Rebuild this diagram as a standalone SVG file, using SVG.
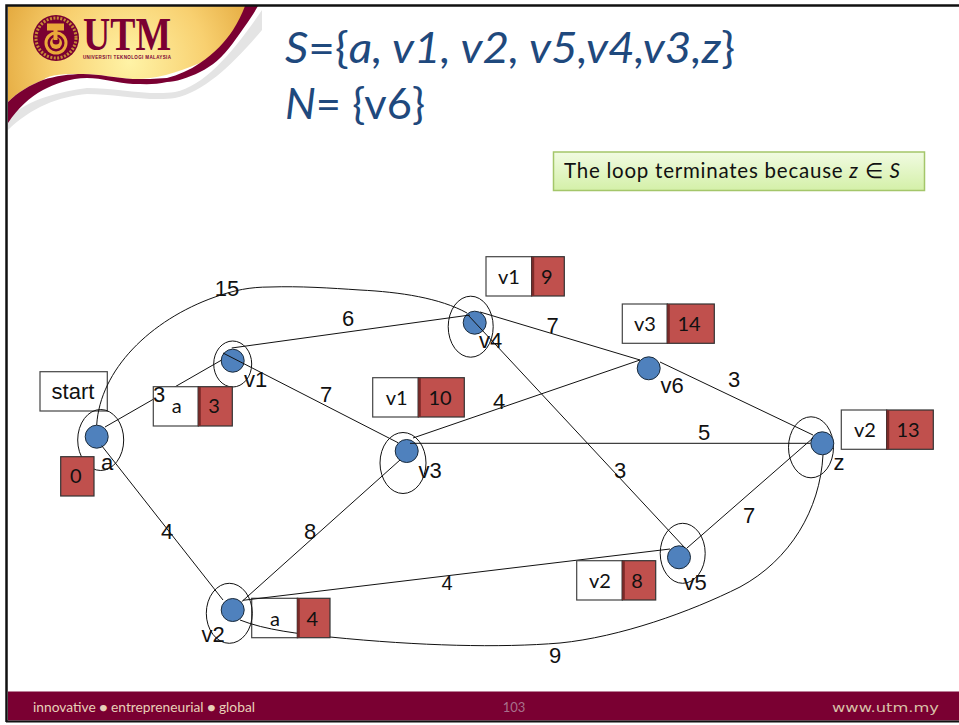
<svg xmlns="http://www.w3.org/2000/svg" width="959" height="725" viewBox="0 0 959 725">
<style>
.l{font-family:"Liberation Sans",Arial,sans-serif;font-size:22px;fill:#111;text-anchor:middle}
.b{font-family:Lato,"Open Sans",sans-serif;font-size:20px;fill:#111;text-anchor:middle}
.e{fill:none;stroke:#111;stroke-width:1}
.n{fill:#4f81bd;stroke:#1a2a3a;stroke-width:1}
.o{fill:none;stroke:#111;stroke-width:1}
.w{fill:#fff;stroke:#444;stroke-width:1.200}
.r{fill:#c0504d;stroke:#333;stroke-width:1.200}
.s{fill:#7a2a28}
.t{font-family:Lato,"Open Sans",sans-serif;font-size:42px;fill:#1f497d}
</style>
<defs>
<radialGradient id="g" gradientUnits="userSpaceOnUse" cx="130" cy="62" r="140">
<stop offset="0" stop-color="#fff3a6"/><stop offset="0.55" stop-color="#f8d070"/><stop offset="1" stop-color="#e2a63a"/>
</radialGradient>
<linearGradient id="gb" x1="0" y1="0" x2="0" y2="1"><stop offset="0" stop-color="#f1fbe2"/><stop offset="1" stop-color="#d4f0a8"/></linearGradient>
</defs>
<rect width="959" height="725" fill="#fff"/>
<g id="banner">
<path d="M8 118C30 98 60 92 87 88C115 88 150 96 175 92C205 86 235 50 262 10L262 30C235 62 205 92 175 98C150 102 115 94 87 94C60 96 30 108 8 130Z" fill="#e4e4e4"/>
<path d="M8 6H247C236 30 220 55 200 63C175 74 150 80 133 79C115 78 100 74 83 74C65 74 50 74 43 80C30 85 18 92 8 102Z" fill="url(#g)"/>
<path d="M245 6H258C250 20 240 33 233 43C222 58 212 66 200 72C188 78 175 82 167 82C155 85 145 84 133 84C118 83 102 78 87 78C70 78 55 84 43 90C30 97 18 108 8 123V102C18 92 30 85 43 80C55 76 70 74 83 74C100 74 115 78 133 79C145 79 155 79 167 78C178 75 190 70 200 63C215 53 225 42 233 30C238 22 242 14 245 6Z" fill="#7a0032"/>
<circle cx="56" cy="38" r="23" fill="#7a0032"/>
<circle cx="56" cy="38" r="20" fill="none" stroke="#c88a35" stroke-width="3" stroke-dasharray="2 1.500"/>
<circle cx="56" cy="38" r="16.500" fill="#7a0032"/>
<circle cx="56" cy="43" r="11.500" fill="#eaa93a"/>
<circle cx="56" cy="43" r="8.500" fill="#7a0032"/>
<circle cx="56" cy="43" r="6" fill="#eaa93a"/>
<circle cx="56" cy="41" r="3.500" fill="#7a0032"/>
<rect x="47" y="23.500" width="17" height="7" fill="#eaa93a"/>
<rect x="53.500" y="30" width="4" height="10" fill="#eaa93a"/>
<text x="83" y="50" font-family="Liberation Serif,serif" font-weight="bold" font-size="47" fill="#7a0032" textLength="88" lengthAdjust="spacingAndGlyphs">UTM</text>
<text x="83" y="59" font-family="Liberation Sans,sans-serif" font-weight="bold" font-size="4.500" fill="#7a0032" textLength="88" lengthAdjust="spacing">UNIVERSITI TEKNOLOGI MALAYSIA</text>
</g>
<g id="frame">
<path d="M6.500 722V5.500H959" fill="none" stroke="#111" stroke-width="2.500"/>
</g>
<g id="title">
<text class="t" x="285" y="63" textLength="450" lengthAdjust="spacingAndGlyphs"><tspan font-style="italic">S</tspan>={<tspan font-style="italic">a, v1, v2, v5,v4,v3,z</tspan>}</text>
<text class="t" x="285" y="119" textLength="140" lengthAdjust="spacingAndGlyphs"><tspan font-style="italic">N</tspan>= {v6}</text>
</g>
<g id="note">
<rect x="553.500" y="152" width="371" height="38.500" fill="url(#gb)" stroke="#a4c66a" stroke-width="1.500"/>
<text x="564" y="178" font-family="Lato,sans-serif" font-size="20.500" fill="#111" textLength="336" lengthAdjust="spacing">The loop terminates because <tspan font-style="italic">z</tspan> ∈ <tspan font-style="italic">S</tspan></text>
</g>
<g id="start"><rect class="w" x="40" y="371.700" width="67.300" height="39.300"/><text class="l" x="73" y="399">start</text></g>
<g id="d-v2-name"><rect class="w" x="251.700" y="598.300" width="46" height="39.400"/><text class="b" x="275" y="626">a</text></g>
<g id="a"><ellipse class="o" cx="100.700" cy="440" rx="23" ry="30.500"/><circle class="n" cx="96.700" cy="436.700" r="11.500"/><text class="l" x="107" y="470">a</text></g>
<g id="v1"><ellipse class="o" cx="232.700" cy="364" rx="19" ry="23"/><circle class="n" cx="232.700" cy="360.700" r="11.500"/><text class="l" x="255.700" y="386.700">v1</text></g>
<g id="v2"><ellipse class="o" cx="229.300" cy="613.300" rx="23" ry="30"/><circle class="n" cx="232.700" cy="610" r="11.500"/><text class="l" x="213" y="641.700">v2</text></g>
<g id="v3"><ellipse class="o" cx="403" cy="463" rx="23" ry="30.500"/><circle class="n" cx="406.700" cy="451" r="11.500"/><text class="l" x="430" y="477.700">v3</text></g>
<g id="v4"><ellipse class="o" cx="470.700" cy="326.700" rx="22.500" ry="30.500"/><circle class="n" cx="474.700" cy="322.700" r="11.500"/><text class="l" x="490.700" y="347.700">v4</text></g>
<g id="v5"><ellipse class="o" cx="682.700" cy="553.300" rx="22.500" ry="30"/><circle class="n" cx="679" cy="557.300" r="11.500"/><text class="l" x="695" y="590">v5</text></g>
<g id="v6"><circle class="n" cx="648.700" cy="368.300" r="11.500"/><text class="l" x="672" y="393">v6</text></g>
<g id="z"><ellipse class="o" cx="811" cy="447.300" rx="22.500" ry="30.500"/><circle class="n" cx="822.300" cy="443.300" r="11.500"/><text class="l" x="839" y="470">z</text></g>
<g id="connectors">
<path class="e" d="M105 427L221.700 360"/>
<path class="e" d="M101.700 445.700L223 600"/>
<path class="e" d="M231.700 348L470 315"/>
<path class="e" d="M223 353L398 442.700"/>
<path class="e" d="M480 312L640 360"/>
<path class="e" d="M468 315L685 548"/>
<path class="e" d="M413 438L640 360"/>
<path class="e" d="M410 443.300H810.500"/>
<path class="e" d="M660 362L813 435"/>
<path class="e" d="M241.700 601.700L400 460"/>
<path class="e" d="M243 600.300L670 549"/>
<path class="e" d="M687 548L813 438"/>
<path class="e" d="M96.700 425C100 370 150 320 215 297C235 290 250 287 270 287C300 286 330 288 360 290C400 292 440 298 467 313"/>
<path class="e" d="M240 620C265 630 300 634 330 637C420 646 500 648 560 643C620 637 690 612 740 587C790 560 820 510 823 455"/>
</g>
<g id="d-a"><rect class="r" x="60.700" y="456.700" width="33.300" height="39.300"/><text class="b" x="75.700" y="483">0</text></g>
<g id="d-v1"><rect class="w" x="153.300" y="386.700" width="45" height="39.300"/><rect class="r" x="198.300" y="386.700" width="34" height="39.300"/><rect class="s" x="198.300" y="387" width="2.500" height="39"/><text class="b" x="176.700" y="413">a</text><text class="b" x="214" y="413">3</text></g>
<g id="d-v2"><rect class="r" x="297.300" y="598.300" width="32.700" height="39.400"/><rect class="s" x="297.300" y="598.500" width="2.500" height="39"/><text class="b" x="312.300" y="626">4</text></g>
<g id="d-v3"><rect class="w" x="372.700" y="377.700" width="45.600" height="39.300"/><rect class="r" x="418.300" y="377.700" width="46" height="39.300"/><rect class="s" x="418.300" y="378" width="2.500" height="39"/><text class="b" x="396.700" y="405">v1</text><text class="b" x="440" y="405">10</text></g>
<g id="d-v4"><rect class="w" x="486" y="256.700" width="45.700" height="39.300"/><rect class="r" x="531.700" y="256.700" width="32.600" height="39.300"/><rect class="s" x="531.700" y="257" width="2.500" height="39"/><text class="b" x="509" y="284">v1</text><text class="b" x="546.700" y="284">9</text></g>
<g id="d-v5"><rect class="w" x="576.700" y="560.700" width="45.600" height="39.300"/><rect class="r" x="622.300" y="560.700" width="33.400" height="39.300"/><rect class="s" x="622.300" y="561" width="2.500" height="39"/><text class="b" x="600" y="587.700">v2</text><text class="b" x="637" y="587.700">8</text></g>
<g id="d-v6"><rect class="w" x="622.300" y="304" width="45" height="39.300"/><rect class="r" x="667.300" y="304" width="47" height="39.300"/><rect class="s" x="667.300" y="304.300" width="2.500" height="39"/><text class="b" x="645" y="330.700">v3</text><text class="b" x="689" y="330.700">14</text></g>
<g id="d-z"><rect class="w" x="841.300" y="410" width="45.400" height="39.300"/><rect class="r" x="886.700" y="410" width="46.600" height="39.300"/><rect class="s" x="886.700" y="410.300" width="2.500" height="39"/><text class="b" x="865" y="436.700">v2</text><text class="b" x="908" y="436.700">13</text></g>
<g id="weights">
<text class="l" x="227" y="296">15</text><text class="l" x="159" y="401.700">3</text><text class="l" x="167" y="539">4</text>
<text class="l" x="348" y="326">6</text><text class="l" x="326" y="401.700">7</text><text class="l" x="310" y="539">8</text>
<text class="l" x="552.700" y="333">7</text><text class="l" x="499" y="409">4</text><text class="l" x="704" y="440">5</text>
<text class="l" x="734" y="386.700">3</text><text class="l" x="620" y="478">3</text><text class="l" x="749" y="522.700">7</text>
<text class="l" x="447" y="590" style="font-size:20px">4</text><text class="l" x="555" y="663">9</text>
</g>
<g id="footer">
<rect x="8" y="691.500" width="951" height="29" fill="#7a0032"/>
<path d="M6 721.500H959" stroke="#111" stroke-width="2"/>
<text x="33" y="712" font-family="Lato,sans-serif" font-size="13" fill="#e8d0b8" textLength="222" lengthAdjust="spacingAndGlyphs">innovative ● entrepreneurial ● global</text>
<text x="514" y="712" text-anchor="middle" font-family="Lato,sans-serif" font-size="13" fill="#a8708c">103</text>
<text x="832" y="712" font-family="DejaVu Sans,sans-serif" font-size="13" fill="#d8c0a8" textLength="107" lengthAdjust="spacingAndGlyphs">www.utm.my</text>
</g>
</svg>
